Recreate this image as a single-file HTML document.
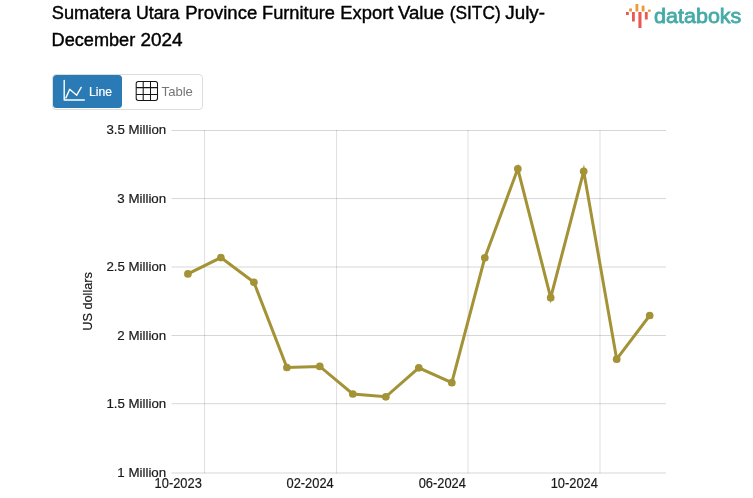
<!DOCTYPE html>
<html lang="en">
<head>
<meta charset="utf-8">
<title>Sumatera Utara Province Furniture Export Value (SITC) July-December 2024</title>
<style>
html,body{margin:0;padding:0;background:#fff;}
body{width:753px;height:498px;overflow:hidden;font-family:"Liberation Sans",sans-serif;}
svg{display:block;}
text{font-family:"Liberation Sans",sans-serif;}
</style>
</head>
<body>
<svg width="753" height="498" viewBox="0 0 753 498">
  <rect width="753" height="498" fill="#fff"/>

  <!-- title -->
  <g font-size="18" fill="#000" stroke="#000" stroke-width="0.4">
    <text x="51.8" y="19.4" textLength="79.0" lengthAdjust="spacingAndGlyphs">Sumatera</text>
    <text x="136.0" y="19.4" textLength="43.4" lengthAdjust="spacingAndGlyphs">Utara</text>
    <text x="185.2" y="19.4" textLength="72.0" lengthAdjust="spacingAndGlyphs">Province</text>
    <text x="262.0" y="19.4" textLength="73.0" lengthAdjust="spacingAndGlyphs">Furniture</text>
    <text x="340.3" y="19.4" textLength="53.1" lengthAdjust="spacingAndGlyphs">Export</text>
    <text x="398.0" y="19.4" textLength="46.2" lengthAdjust="spacingAndGlyphs">Value</text>
    <text x="449.7" y="19.4" textLength="51.0" lengthAdjust="spacingAndGlyphs">(SITC)</text>
    <text x="505.3" y="19.4" textLength="39.7" lengthAdjust="spacingAndGlyphs">July-</text>
    <text x="51.6" y="46.4" textLength="83.6" lengthAdjust="spacingAndGlyphs">December</text>
    <text x="140.4" y="46.4" textLength="42.2" lengthAdjust="spacingAndGlyphs">2024</text>
  </g>

  <!-- logo -->
  <g>
    <rect x="626" y="12" width="2.8" height="3" fill="#e85a4f"/>
    <rect x="629.2" y="8.4" width="2.8" height="3.1" fill="#ee9a3a"/>
    <rect x="632" y="12" width="2.8" height="9.5" fill="#e85a4f"/>
    <rect x="635.5" y="4" width="2.8" height="7.5" fill="#ee9a3a"/>
    <rect x="638.4" y="12" width="3.1" height="16" fill="#e85a4f"/>
    <rect x="641.7" y="5.6" width="2.8" height="5.9" fill="#ee9a3a"/>
    <rect x="644.9" y="12" width="2.8" height="7.5" fill="#e85a4f"/>
    <rect x="647.9" y="9.6" width="2.8" height="2.2" fill="#ee9a3a"/>
    <text x="654" y="22.6" font-size="21.1" fill="#45aaa8" stroke="#45aaa8" stroke-width="0.8" textLength="87.4" lengthAdjust="spacingAndGlyphs">databoks</text>
  </g>

  <!-- buttons -->
  <g>
    <rect x="52.5" y="74.5" width="150" height="35" rx="3.5" ry="3.5" fill="#fff" stroke="#ddd"/>
    <rect x="53" y="75" width="69" height="33" rx="3.5" ry="3.5" fill="#2a7ab5"/>
    <path d="M64.2 80.4 V100 H84.3 M65.9 97.9 L69.7 89.3 L76.7 95.2 L81.2 87.4" fill="none" stroke="#fff" stroke-width="1.4" stroke-linecap="round" stroke-linejoin="round"/>
    <text x="89.1" y="95.9" font-size="12" fill="#fff" stroke="#fff" stroke-width="0.2" textLength="23" lengthAdjust="spacingAndGlyphs">Line</text>
    <g fill="none" stroke="#151515" stroke-width="1.05">
      <rect x="136.2" y="81.4" width="21.3" height="19" rx="2.2"/>
      <path d="M136.2 87.6 H157.5 M136.2 94.4 H157.5 M143.2 81.4 V100.4 M150.5 81.4 V100.4"/>
    </g>
    <text x="161.6" y="95.9" font-size="12.7" fill="#757575" textLength="31.3" lengthAdjust="spacingAndGlyphs">Table</text>
  </g>

  <!-- grid -->
  <g fill="none" stroke="#000" stroke-width="1">
    <path stroke-opacity="0.155" d="M171.5 130.5 H666 M171.5 198.6 H666 M171.5 267 H666 M171.5 335.5 H666 M171.5 403.7 H666 M171.5 473 H666"/>
    <path stroke-opacity="0.12" d="M204.5 130 V473.5 M336.5 130 V473.5 M468 130 V473.5 M600 130 V473.5"/>
  </g>

  <!-- y labels -->
  <g font-size="13.2" fill="#1a1a1a" stroke="#1a1a1a" stroke-width="0.2">
    <text x="106.4" y="134.3" textLength="59.8" lengthAdjust="spacingAndGlyphs">3.5 Million</text>
    <text x="117.3" y="202.5" textLength="48.9" lengthAdjust="spacingAndGlyphs">3 Million</text>
    <text x="106.4" y="271.0" textLength="59.8" lengthAdjust="spacingAndGlyphs">2.5 Million</text>
    <text x="117.3" y="340.1" textLength="48.9" lengthAdjust="spacingAndGlyphs">2 Million</text>
    <text x="106.4" y="408.4" textLength="59.8" lengthAdjust="spacingAndGlyphs">1.5 Million</text>
    <text x="117.3" y="476.8" textLength="48.9" lengthAdjust="spacingAndGlyphs">1 Million</text>
  </g>
  <text transform="translate(91.8,330.8) rotate(-90)" font-size="13.2" fill="#1a1a1a" stroke="#1a1a1a" stroke-width="0.2" textLength="58.8" lengthAdjust="spacingAndGlyphs">US dollars</text>

  <!-- x labels -->
  <g font-size="13.8" fill="#1a1a1a" stroke="#1a1a1a" stroke-width="0.2">
    <text x="154.6" y="488.3" textLength="47.2" lengthAdjust="spacingAndGlyphs">10-2023</text>
    <text x="286.5" y="488.3" textLength="47.2" lengthAdjust="spacingAndGlyphs">02-2024</text>
    <text x="418.7" y="488.3" textLength="47.2" lengthAdjust="spacingAndGlyphs">06-2024</text>
    <text x="550.7" y="488.3" textLength="47.2" lengthAdjust="spacingAndGlyphs">10-2024</text>
  </g>

  <!-- series -->
  <g>
    <polyline fill="none" stroke="#a39236" stroke-width="3" stroke-linejoin="miter" stroke-miterlimit="10"
      points="187.9,273.9 220.9,257.6 253.9,282.3 286.9,367.5 319.8,366.4 352.8,394.0 385.8,396.8 418.8,367.8 451.8,382.7 484.8,257.8 517.8,168.8 550.7,297.7 583.7,171.3 616.7,359.2 649.7,315.5"/>
    <g fill="#a39236">
      <circle cx="187.9" cy="273.9" r="3.85"/>
      <circle cx="220.9" cy="257.6" r="3.85"/>
      <circle cx="253.9" cy="282.3" r="3.85"/>
      <circle cx="286.9" cy="367.5" r="3.85"/>
      <circle cx="319.8" cy="366.4" r="3.85"/>
      <circle cx="352.8" cy="394.0" r="3.85"/>
      <circle cx="385.8" cy="396.8" r="3.85"/>
      <circle cx="418.8" cy="367.8" r="3.85"/>
      <circle cx="451.8" cy="382.7" r="3.85"/>
      <circle cx="484.8" cy="257.8" r="3.85"/>
      <circle cx="517.8" cy="168.8" r="3.85"/>
      <circle cx="550.7" cy="297.7" r="3.85"/>
      <circle cx="583.7" cy="171.3" r="3.85"/>
      <circle cx="616.7" cy="359.2" r="3.85"/>
      <circle cx="649.7" cy="315.5" r="3.85"/>
    </g>
  </g>
</svg>
</body>
</html>
